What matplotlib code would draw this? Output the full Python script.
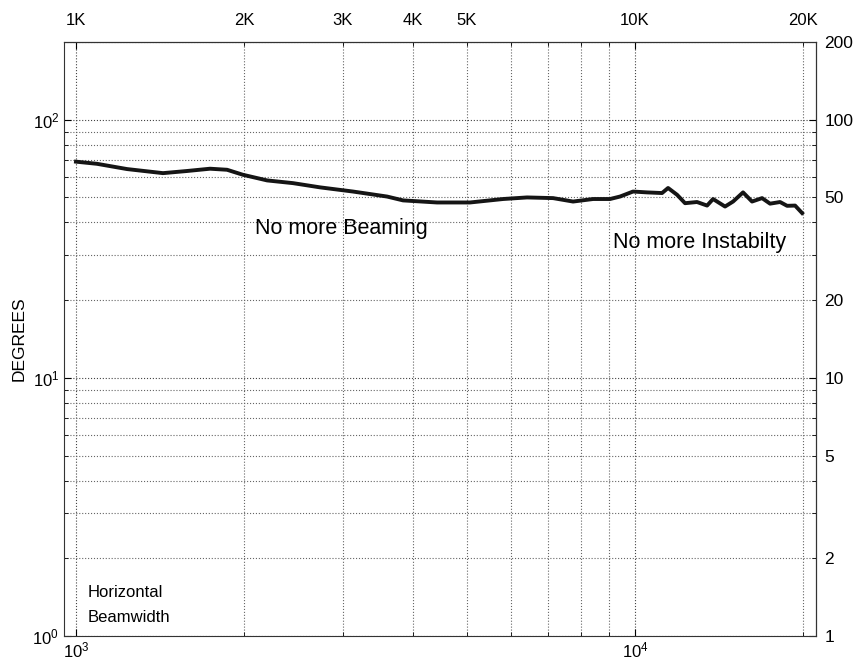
import numpy as np
import matplotlib
matplotlib.use('Agg')
import matplotlib.pyplot as plt
from matplotlib.ticker import NullFormatter, FixedLocator, FixedFormatter

plt.rcParams['font.family'] = ['Liberation Sans', 'DejaVu Sans']
plt.rcParams['mathtext.default'] = 'regular'

# horizontal beamwidth vs frequency
freq = [1000, 1090, 1234, 1431, 1580, 1737, 1863, 1989, 2197, 2445,
        2733, 3130, 3601, 3846, 4425, 5067, 5806, 6410, 7135, 7748,
        8412, 9021, 9401, 9918, 10507, 11177, 11458, 11890, 12288, 12907,
        13454, 13790, 14488, 14974, 15603, 16192, 16874, 17439, 18173, 18706,
        19333, 19899]
deg = [68.8, 67.5, 64.4, 62.1, 63.3, 64.6, 64.0, 61.2, 58.2, 56.8,
       54.7, 52.7, 50.4, 48.7, 47.8, 47.8, 49.3, 50.0, 49.7, 48.2,
       49.3, 49.3, 50.4, 52.7, 52.3, 52.0, 54.4, 51.2, 47.5, 48.0,
       46.5, 49.3, 46.1, 48.2, 52.3, 48.2, 49.7, 47.3, 48.0, 46.4,
       46.5, 43.5]

top_ticks = [1000, 2000, 3000, 4000, 5000, 10000, 20000]
top_labels = ['1K', '2K', '3K', '4K', '5K', '10K', '20K']
right_ticks = [1, 2, 5, 10, 20, 50, 100, 200]
right_labels = ['1', '2', '5', '10', '20', '50', '100', '200']

fig = plt.figure(figsize=(8.56, 6.64), dpi=100)
ax = fig.add_axes([0.0748, 0.0422, 0.8785, 0.8945])

ax.plot(freq, deg, color='#151515', lw=2.8, solid_joinstyle='round')
ax.set_xscale('log')
ax.set_yscale('log')
ax.set_xlim(952, 21074)
ax.set_ylim(1, 200)

ax.grid(which='major', linestyle=':', color='#444444', lw=0.8)
ax.grid(which='minor', linestyle=':', color='#666666', lw=0.8)
ax.xaxis.set_minor_formatter(NullFormatter())
ax.yaxis.set_minor_formatter(NullFormatter())
ax.tick_params(which='both', direction='in', top=True, right=True, labelsize=12)
ax.tick_params(which='major', length=5)
ax.tick_params(which='minor', length=3)
for s in ax.spines.values():
    s.set_color('#333333')

ax.set_ylabel('DEGREES', fontsize=12.5, labelpad=4)

# labels along top and right
top = ax.secondary_xaxis('top')
top.xaxis.set_major_locator(FixedLocator(top_ticks))
top.xaxis.set_major_formatter(FixedFormatter(top_labels))
top.xaxis.set_minor_formatter(NullFormatter())
top.tick_params(which='both', length=0, labelsize=12, pad=10)

rgt = ax.secondary_yaxis('right')
rgt.yaxis.set_major_locator(FixedLocator(right_ticks))
rgt.yaxis.set_major_formatter(FixedFormatter(right_labels))
rgt.yaxis.set_minor_formatter(NullFormatter())
rgt.tick_params(which='both', length=0, labelsize=12.5, pad=6)

ax.text(2090, 36.1, 'No more Beaming', fontsize=15.5, va='baseline')
ax.text(9134, 31.9, 'No more Instabilty', fontsize=15.5, va='baseline')
ax.text(1051, 1.416, 'Horizontal', fontsize=12, va='baseline')
ax.text(1051, 1.133, 'Beamwidth', fontsize=12, va='baseline')

fig.savefig('out.png', dpi=100)
